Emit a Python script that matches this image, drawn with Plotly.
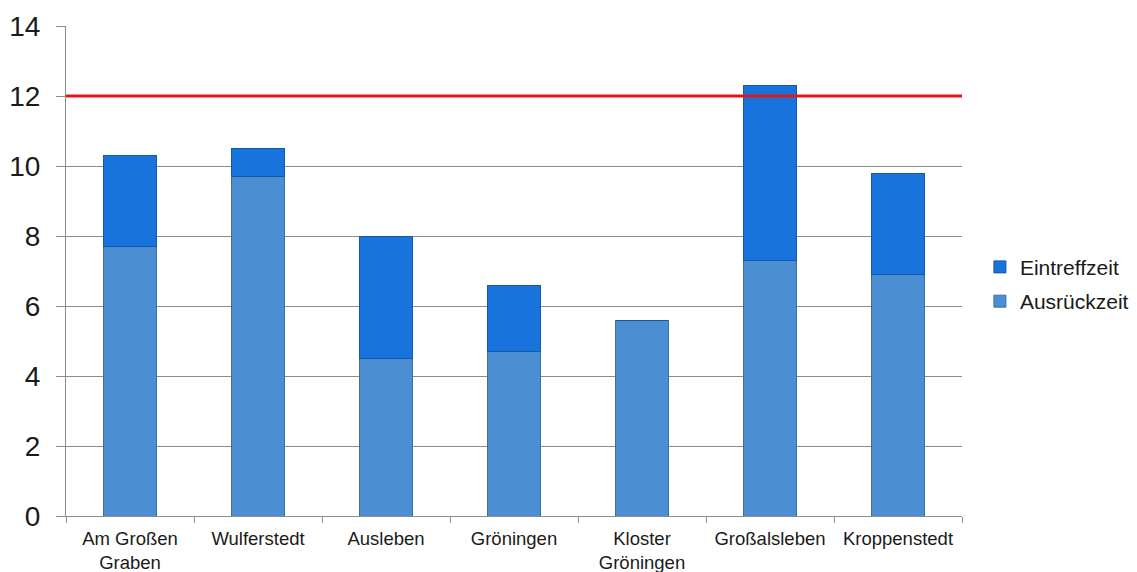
import plotly.graph_objects as go

# Stations and their response times (minutes)
stations = ["Am Großen<br>Graben", "Wulferstedt", "Ausleben", "Gröningen",
            "Kloster<br>Gröningen", "Großalsleben", "Kroppenstedt"]
ausrueckzeit = [7.7, 9.7, 4.5, 4.7, 5.6, 7.3, 6.9]
eintreffzeit = [2.6, 0.8, 3.5, 1.9, 0.0, 5.0, 2.9]
limit_minutes = 12

y_ticks = [0, 2, 4, 6, 8, 10, 12, 14]

FONT = "Liberation Sans, Arial, sans-serif"

fig = go.Figure()
fig.add_trace(go.Bar(
    name="Ausrückzeit", x=stations, y=ausrueckzeit,
    legendgroup="a", legendrank=2,
    marker=dict(color="#4b8ed2", line=dict(color="#3a6fa6", width=1)),
    width=0.41,
))
fig.add_trace(go.Bar(
    name="Eintreffzeit", x=stations, y=eintreffzeit,
    legendgroup="e", legendrank=1,
    marker=dict(color="#1873dd", line=dict(color="#1459a8", width=1)),
    width=0.41,
))

# Target time limit
fig.add_shape(type="line", xref="paper", x0=0, x1=1, yref="y",
              y0=limit_minutes, y1=limit_minutes,
              line=dict(color="#e3161b", width=3), layer="above")

fig.update_layout(
    barmode="stack",
    width=1137, height=572,
    margin=dict(l=66, r=175, t=26, b=56, autoexpand=False),
    paper_bgcolor="white", plot_bgcolor="white",
    font=dict(family=FONT, color="#1a1a1a"),
    showlegend=True,
    legend=dict(x=1.020, y=0.473, xanchor="left", yanchor="middle",
                traceorder="grouped", font=dict(size=21),
                itemwidth=30, tracegroupgap=4),
    xaxis=dict(showgrid=False, showline=True, linecolor="#8c8c8c",
               linewidth=1, ticks="outside", tickson="boundaries",
               ticklen=6, tickcolor="#8c8c8c", ticklabelstandoff=6,
               tickfont=dict(size=18.5), range=[-0.5, 6.5]),
    yaxis=dict(range=[0, 14], tickvals=y_ticks, showgrid=True,
               gridcolor="#8c8c8c", gridwidth=1, showline=True,
               linecolor="#8c8c8c", linewidth=1, ticks="outside",
               ticklen=9, tickcolor="#8c8c8c", tickfont=dict(size=28),
               ticklabelstandoff=10, zeroline=False),
)

fig.write_html("out.html")
